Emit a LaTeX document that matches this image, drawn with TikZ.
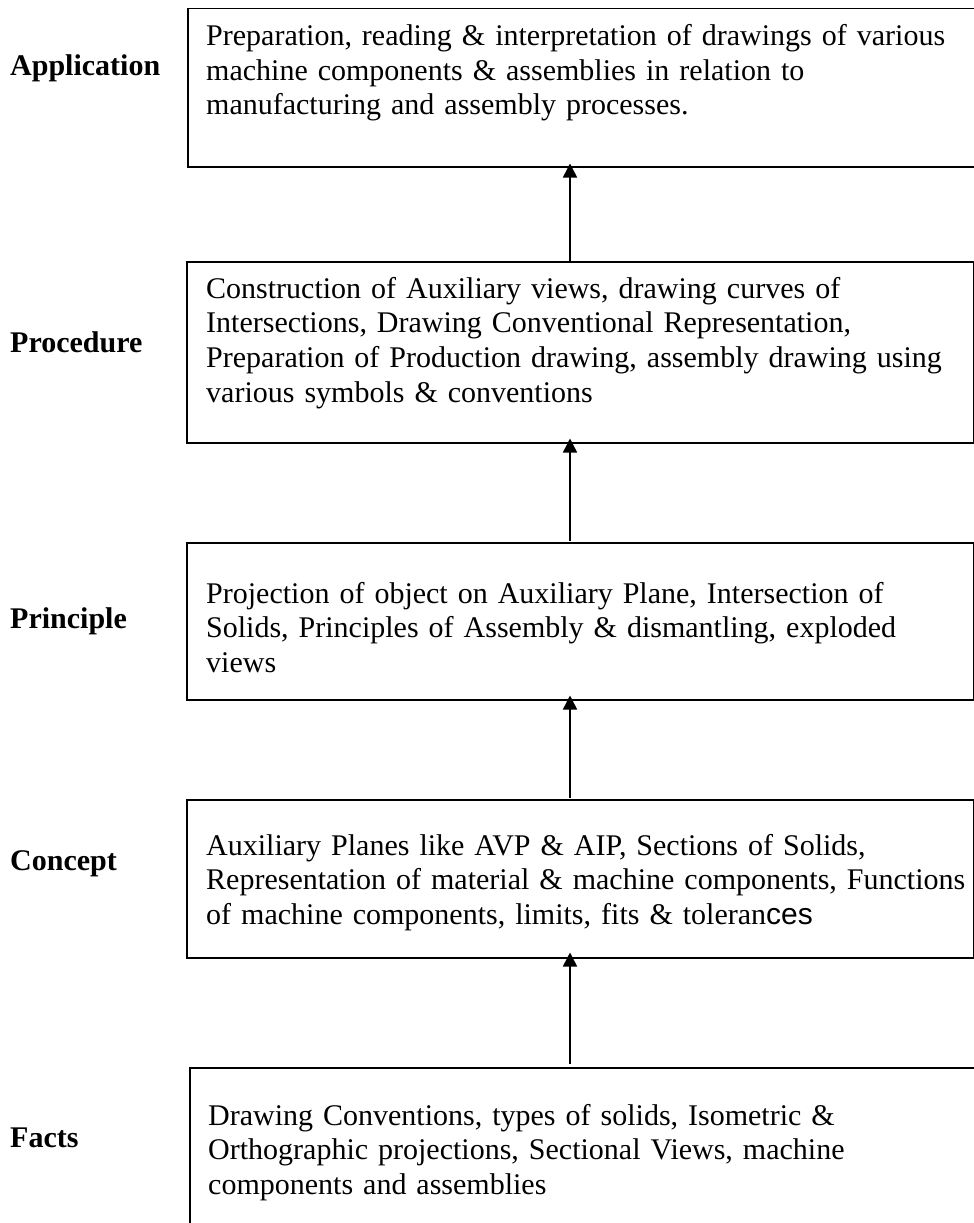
\documentclass[tikz,border=0pt]{standalone}
\usepackage{fontspec}
\setmainfont{Liberation Serif}
\newfontfamily\arialfont{Liberation Sans}
\usetikzlibrary{arrows.meta}
\begin{document}
\begin{tikzpicture}[x=1pt,y=-1pt,
  boxnode/.style={draw, line width=1.5pt, inner sep=0pt, anchor=north west},
  txt/.style={anchor=base west, inner sep=0pt, text width=780pt, align=left,
    font=\fontsize{30}{34.7}\selectfont},
  lbl/.style={anchor=base west, inner sep=0pt, font=\fontsize{30}{34.7}\selectfont\bfseries},
  arr/.style={line width=1.5pt, -{Triangle[width=14pt,length=14pt]}}]
\useasboundingbox (0,0) rectangle (974,1223);
% boxes
\node[boxnode, minimum width=792pt, minimum height=158pt] (b1) at (187,8) {};
\node[boxnode, minimum width=787pt, minimum height=181pt] (b2) at (186,261) {};
\node[boxnode, minimum width=787pt, minimum height=157pt] (b3) at (186,542) {};
\node[boxnode, minimum width=787pt, minimum height=158pt] (b4) at (186,799) {};
\node[boxnode, minimum width=792pt, minimum height=170pt] (b5) at (189,1067) {};
% box texts
\node[txt] (t1) at (206,45.5) {Preparation, reading \& interpretation of drawings of various\\machine components \& assemblies in relation to\\manufacturing and assembly processes.};
\node[txt] (t2) at (206,298) {Construction of Auxiliary views, drawing curves of\\Intersections, Drawing Conventional Representation,\\Preparation of Production drawing, assembly drawing using\\various symbols \& conventions};
\node[txt] (t3) at (206,603) {Projection of object on Auxiliary Plane, Intersection of\\Solids, Principles of Assembly \& dismantling, exploded\\views};
\node[txt] (t4) at (206,855) {Auxiliary Planes like AVP \& AIP, Sections of Solids,\\Representation of material \& machine components, Functions\\of machine components, limits, fits \& toleran{\arialfont ces}};
\node[txt] (t5) at (208,1125) {Drawing Conventions, types of solids, Isometric \&\\Orthographic projections, Sectional Views, machine\\components and assemblies};
% labels
\node[lbl] (l1) at (10,75) {Application};
\node[lbl] (l2) at (10,352) {Procedure};
\node[lbl] (l3) at (10,628) {Principle};
\node[lbl] (l4) at (10,870) {Concept};
\node[lbl] (l5) at (10,1147) {Facts};
% arrows
\coordinate (ax) at (570,0);
\draw[arr, shorten <=3pt, shorten >=-6pt] (b5.north -| ax) -- (b4.south -| ax);
\draw[arr, shorten <=1pt, shorten >=-5pt] (b4.north -| ax) -- (b3.south -| ax);
\draw[arr, shorten <=1pt, shorten >=-5pt] (b3.north -| ax) -- (b2.south -| ax);
\draw[arr, shorten <=0pt, shorten >=-4pt] (b2.north -| ax) -- (b1.south -| ax);
\end{tikzpicture}
\end{document}
